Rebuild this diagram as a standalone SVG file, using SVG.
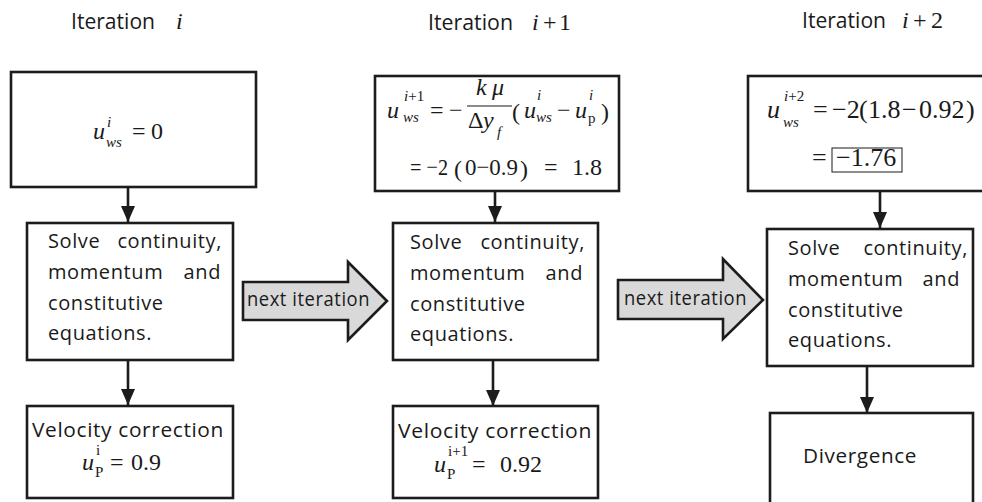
<svg xmlns="http://www.w3.org/2000/svg" width="982" height="502" viewBox="0 0 982 502">
<style>
.box{fill:#fff;stroke:#1c1c1c;stroke-width:2.6}
.blk{fill:#d9d9d9;stroke:#1c1c1c;stroke-width:2.6;stroke-linejoin:miter}
.conn{stroke:#1c1c1c;stroke-width:2.6;fill:none}
.t{font-family:"Open Sans","Noto Sans",sans-serif;font-size:20px;letter-spacing:0.6px;fill:#1a1a1a}
.h{font-family:"Open Sans","Noto Sans",sans-serif;font-size:21px;fill:#1a1a1a}
.m{font-family:"Liberation Serif","Times New Roman",serif;font-size:24px;fill:#1a1a1a}
.b{font-size:26px}
.s{font-family:"Liberation Serif","Times New Roman",serif;font-size:15px;fill:#1a1a1a}
.i{font-style:italic}
.end{text-anchor:end}
</style>
<defs>
<marker id="ah" markerUnits="userSpaceOnUse" markerWidth="16" markerHeight="14" refX="16" refY="7" orient="auto">
<path d="M0,0 L16,7 L0,14 Z" fill="#1c1c1c"/>
</marker>
</defs>

<!-- titles -->
<g id="title1"><text class="h" x="71" y="29" textLength="84" lengthAdjust="spacingAndGlyphs">Iteration</text><text class="m i" x="176" y="29">i</text></g>
<g id="title2"><text class="h" x="428" y="30" textLength="85" lengthAdjust="spacingAndGlyphs">Iteration</text><text class="m i" x="532" y="30">i</text><text class="m" x="543" y="30">+</text><text class="m" x="559" y="30">1</text></g>
<g id="title3"><text class="h" x="802" y="28" textLength="84" lengthAdjust="spacingAndGlyphs">Iteration</text><text class="m i" x="902" y="28">i</text><text class="m" x="913" y="28">+</text><text class="m" x="931" y="28">2</text></g>

<!-- connectors -->
<g id="connectors">
<line class="conn" x1="128" y1="187" x2="128" y2="222" marker-end="url(#ah)"/>
<line class="conn" x1="128" y1="360" x2="128" y2="405" marker-end="url(#ah)"/>
<line class="conn" x1="495" y1="191" x2="495" y2="222" marker-end="url(#ah)"/>
<line class="conn" x1="493" y1="360" x2="493" y2="406" marker-end="url(#ah)"/>
<line class="conn" x1="880" y1="191" x2="880" y2="228" marker-end="url(#ah)"/>
<line class="conn" x1="867" y1="366" x2="867" y2="413" marker-end="url(#ah)"/>
<g id="next1"><polygon class="blk" points="243,282 348,282 348,262 387,301 348,340 348,320 243,320"/><text class="t" x="247" y="306" textLength="123" lengthAdjust="spacingAndGlyphs">next iteration</text></g>
<g id="next2"><polygon class="blk" points="618,280 723,280 723,259 763,300 723,339 723,319 618,319"/><text class="t" x="624" y="305" textLength="123" lengthAdjust="spacingAndGlyphs">next iteration</text></g>
</g>

<!-- column 1 -->
<g id="c1-init">
<rect class="box" x="11" y="72" width="245" height="115"/>
<text class="m i" x="93" y="139">u</text>
<text class="s i" x="107" y="127">i</text>
<text class="s i" x="106" y="147">ws</text>
<text class="m" x="132" y="139">=</text>
<text class="m" x="151" y="139">0</text>
</g>
<g id="c1-solve">
<rect class="box" x="27" y="223" width="206" height="137"/>
<text class="t" x="48" y="248">Solve</text><text class="t end" x="222" y="248">continuity,</text>
<text class="t" x="48" y="279">momentum</text><text class="t end" x="221" y="279">and</text>
<text class="t" x="48" y="310">constitutive</text>
<text class="t" x="48" y="340">equations.</text>
</g>
<g id="c1-velocity">
<rect class="box" x="27" y="406" width="206" height="92"/>
<text class="t" x="32" y="437" textLength="192" lengthAdjust="spacingAndGlyphs">Velocity correction</text>
<text class="m i" x="82" y="470">u</text>
<text class="s" x="96" y="455">i</text>
<text class="s" x="95" y="477">P</text>
<text class="m" x="110" y="470">=</text>
<text class="m" x="131" y="470">0.9</text>
</g>

<!-- column 2 -->
<g id="c2-update">
<rect class="box" x="375" y="76" width="244" height="115"/>
<text class="m i" x="387" y="118">u</text>
<text class="s" x="404" y="101"><tspan class="i">i</tspan>+1</text>
<text class="s i" x="403" y="122">ws</text>
<text class="m" x="430" y="118">=</text>
<text class="m" x="449" y="118">−</text>
<text class="m i" x="476" y="95">k</text><text class="m i" x="492" y="95">μ</text>
<line x1="467" y1="106" x2="512" y2="106" stroke="#1a1a1a" stroke-width="1.2"/>
<text class="m" x="468" y="128">Δ</text><text class="m i" x="483" y="128">y</text>
<text class="s i" x="497" y="137">f</text>
<text class="m" x="512" y="120" font-size="34">(</text>
<text class="m i" x="524" y="118">u</text>
<text class="s i" x="537" y="100">i</text>
<text class="s i" x="536" y="122">ws</text>
<text class="m" x="557" y="118">−</text>
<text class="m i" x="575" y="118">u</text>
<text class="s i" x="589" y="100">i</text>
<text class="s" x="588" y="123">p</text>
<text class="m" x="601" y="120" font-size="34">)</text>
<text class="m" x="410" y="175" textLength="38" lengthAdjust="spacingAndGlyphs">= −2</text>
<text class="m" x="454" y="177" font-size="30">(</text>
<text class="m" x="465" y="175" textLength="53" lengthAdjust="spacingAndGlyphs">0−0.9</text>
<text class="m" x="520" y="177" font-size="30">)</text>
<text class="m" x="544" y="175">=</text>
<text class="m" x="572" y="175">1.8</text>
</g>
<g id="c2-solve">
<rect class="box" x="393" y="223" width="205" height="137"/>
<text class="t" x="410" y="249">Solve</text><text class="t end" x="585" y="249">continuity,</text>
<text class="t" x="410" y="280">momentum</text><text class="t end" x="583" y="280">and</text>
<text class="t" x="410" y="311">constitutive</text>
<text class="t" x="410" y="341">equations.</text>
</g>
<g id="c2-velocity">
<rect class="box" x="393" y="406" width="205" height="92"/>
<text class="t" x="398" y="438" textLength="194" lengthAdjust="spacingAndGlyphs">Velocity correction</text>
<text class="m i" x="434" y="472">u</text>
<text class="s" x="448" y="456">i+1</text>
<text class="s" x="447" y="479">P</text>
<text class="m" x="472" y="472">=</text>
<text class="m" x="500" y="472">0.92</text>
</g>

<!-- column 3 -->
<g id="c3-update">
<rect class="box" x="748" y="76" width="245" height="115"/>
<text class="m b i" x="767" y="118">u</text>
<text class="s" x="784" y="101"><tspan class="i">i</tspan>+2</text>
<text class="s i" x="783" y="127">ws</text>
<text class="m b" x="813" y="118">=</text>
<text class="m b" x="832" y="118">−2</text>
<text class="m b" x="859" y="118">(</text>
<text class="m b" x="868" y="118">1.8</text>
<text class="m b" x="902" y="118">−</text>
<text class="m b" x="919" y="118">0.92</text>
<text class="m b" x="966" y="118">)</text>
<text class="m b" x="812" y="166">=</text>
<rect x="832" y="148" width="70" height="24" fill="none" stroke="#1a1a1a" stroke-width="1"/>
<text class="m b" x="836" y="166">−1.76</text>
</g>
<g id="c3-solve">
<rect class="box" x="767" y="229" width="206" height="137"/>
<text class="t" x="788" y="255">Solve</text><text class="t end" x="968" y="255">continuity,</text>
<text class="t" x="788" y="286">momentum</text><text class="t end" x="960" y="286">and</text>
<text class="t" x="788" y="317">constitutive</text>
<text class="t" x="788" y="347">equations.</text>
</g>
<g id="c3-divergence">
<rect class="box" x="770" y="413" width="203" height="100"/>
<text class="t" x="803" y="463" textLength="114" lengthAdjust="spacingAndGlyphs">Divergence</text>
</g>
</svg>
